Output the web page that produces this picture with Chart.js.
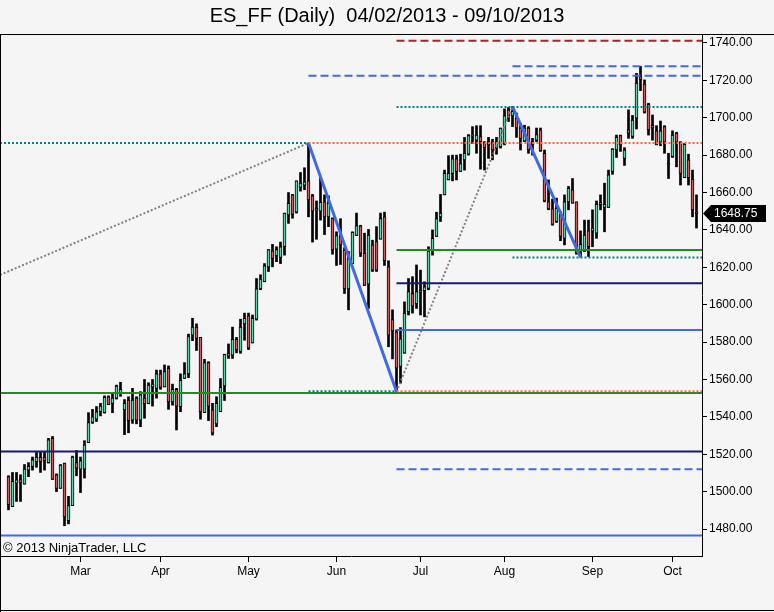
<!DOCTYPE html>
<html>
<head>
<meta charset="utf-8">
<title>ES_FF (Daily)</title>
<script src="https://cdn.jsdelivr.net/npm/chart.js@4.4.1/dist/chart.umd.min.js"></script>
<style>
  html, body { margin: 0; padding: 0; background: #f5f5f5; }
  #wrap { width: 774px; height: 612px; }
</style>
</head>
<body>
<div id="wrap"><canvas id="chart" width="774" height="612"></canvas></div>
<script>
'use strict';

// daily bars, 04/02/2013 .. 09/10/2013 (index 0 = first bar)
var opens = [
  1508, 1492, 1504.5, 1506.5, 1504, 1511.5, 1513.5, 1516, 1518.5, 1518.5,
  1515.5, 1528.5, 1509, 1501.75, 1515.25, 1484.5, 1492.5, 1515.5, 1512, 1512,
  1526.25, 1537, 1538.75, 1542.75, 1542.25, 1550.75, 1547.25, 1550, 1552.5, 1543.75,
  1549, 1538.25, 1550, 1538.25, 1550, 1547, 1556, 1555.25, 1563, 1556,
  1566, 1548, 1554.75, 1545.5, 1560.5, 1563, 1583.75, 1588, 1582.5, 1542.25,
  1569, 1543.75, 1536.25, 1542.75, 1556.5, 1574, 1573, 1581.5, 1575, 1589.75,
  1594, 1579.5, 1592.25, 1608.5, 1612.25, 1620.25, 1628.75, 1626.25, 1625.25, 1631,
  1648, 1658.75, 1649.5, 1662.75, 1664, 1666.25, 1658.25, 1651.5, 1650, 1655,
  1647, 1646.25, 1629.75, 1636.5, 1629.25, 1608.5, 1622, 1637, 1642.25, 1627.5,
  1611, 1632, 1633.75, 1635, 1647, 1620.25, 1592, 1585.5, 1567, 1574,
  1596.25, 1606, 1600.5, 1606.5, 1607.5, 1608.75, 1629.25, 1636.5, 1647, 1658.75,
  1666.75, 1670.25, 1678, 1671.25, 1677.5, 1680.5, 1690.5, 1688, 1690, 1686.75,
  1687.25, 1686.75, 1683.75, 1684.5, 1686.25, 1704.25, 1701, 1699.75, 1694.5, 1687.5,
  1694.5, 1687.25, 1688, 1693.5, 1681, 1655, 1651.25, 1644.5, 1648.25, 1635.5,
  1655, 1661.5, 1655, 1629.25, 1628.5, 1639.5, 1639.5, 1638.25, 1654.75, 1652,
  1652, 1671.25, 1682.75, 1690.5, 1678.25, 1693.5, 1690, 1699.75, 1722, 1718,
  1707.25, 1696, 1693, 1687, 1695.25, 1675.5, 1679.25, 1691.75, 1687, 1668,
  1677.5, 1667.25, 1649.5
];
var highs = [
  1508.5, 1510.25, 1510.25, 1509, 1514.5, 1515.5, 1518.5, 1521, 1521, 1521,
  1528.5, 1529.5, 1509.5, 1514.5, 1515.25, 1497.5, 1519, 1522, 1518.5, 1527.25,
  1542.25, 1544, 1545.5, 1547.25, 1551.25, 1551.25, 1552.5, 1557, 1558.5, 1549.25,
  1550.75, 1555.25, 1550.75, 1553.5, 1560, 1558.25, 1560, 1565, 1565, 1567.75,
  1567.25, 1557.5, 1555.25, 1563, 1569, 1584.25, 1592.75, 1589.75, 1582.5, 1570.75,
  1569.5, 1547.25, 1550.75, 1560.5, 1573.5, 1579, 1588, 1582.5, 1592.25, 1595.5,
  1595.5, 1594.5, 1614, 1616, 1622, 1629.5, 1632.25, 1631, 1633.5, 1649,
  1660, 1659, 1666.25, 1670.75, 1673.25, 1686.5, 1659, 1655.5, 1668, 1658.75,
  1658.25, 1646.5, 1639, 1646, 1630.5, 1628.5, 1639, 1649, 1642.5, 1638.25,
  1640.25, 1634.5, 1641.75, 1649, 1649.5, 1623.5, 1597.25, 1586.5, 1587.75, 1601.5,
  1614, 1615, 1621.25, 1618.5, 1612.25, 1631, 1640, 1649.5, 1659, 1672,
  1679.75, 1680, 1680, 1680.5, 1689.5, 1691, 1695.25, 1695.75, 1695.75, 1687.25,
  1689.5, 1688.5, 1689.5, 1694.5, 1704.75, 1705.5, 1706, 1702.5, 1697, 1696,
  1695.25, 1689, 1694.5, 1694.5, 1682.75, 1666.75, 1656.5, 1657, 1649.75, 1658.75,
  1663.25, 1667.5, 1655, 1639.5, 1645.25, 1645.25, 1650.75, 1655.5, 1658.75, 1665,
  1672, 1683.5, 1690.75, 1690.75, 1684, 1704.25, 1701.25, 1723.75, 1727.5, 1720.25,
  1707.75, 1701.5, 1695.75, 1698.25, 1695.75, 1681, 1693, 1692.25, 1687.25, 1686.25,
  1680.5, 1672, 1658.75
];
var lows = [
  1490.25, 1492, 1494.75, 1494.75, 1504, 1508, 1511.5, 1513, 1510.25, 1511.5,
  1515.25, 1506.5, 1500, 1501.75, 1481.75, 1482.75, 1492.5, 1508.5, 1499.5, 1507.25,
  1526.25, 1536.5, 1537.5, 1540.5, 1542, 1546.5, 1542.25, 1549.5, 1551, 1530.5,
  1531.5, 1536.5, 1536.25, 1534.75, 1539.25, 1547, 1545.75, 1550, 1554.75, 1556,
  1544, 1546.25, 1533, 1542.75, 1560.5, 1561, 1580.75, 1575.5, 1538.75, 1542.25,
  1538, 1530.25, 1534.75, 1542.75, 1548.75, 1571.25, 1571.25, 1574.25, 1574, 1581,
  1576, 1579.5, 1591.75, 1608, 1612.25, 1617.75, 1620.25, 1623, 1622, 1626.5,
  1643.5, 1646.25, 1649, 1660.75, 1661.5, 1647, 1633.5, 1635, 1645.25, 1637.5,
  1641.75, 1627, 1621, 1621.5, 1606, 1597.25, 1622, 1637, 1625.75, 1610.25,
  1598, 1617.75, 1617.75, 1635, 1621, 1577.5, 1571, 1553.5, 1558, 1574,
  1594.5, 1595.5, 1598, 1594.5, 1593.5, 1608, 1626.5, 1636.5, 1644.5, 1658.75,
  1666.75, 1666.25, 1666.75, 1671.25, 1672, 1680, 1686.25, 1681, 1672.5, 1672,
  1678.25, 1677.5, 1680.5, 1683.75, 1685.5, 1698, 1695.25, 1689.5, 1682.75, 1687.25,
  1681, 1680, 1687.25, 1682, 1655, 1650.75, 1642.5, 1644, 1634.25, 1632,
  1650.75, 1654.25, 1627, 1625.5, 1628.5, 1625.75, 1631, 1635.5, 1650.75, 1639,
  1652, 1669.75, 1678.75, 1682, 1674.5, 1689, 1689, 1694, 1714.5, 1702.5,
  1690.75, 1688, 1685.5, 1685, 1681, 1667.5, 1678.75, 1673.75, 1664, 1668,
  1664, 1647, 1641
];
var closes = [
  1493, 1505.5, 1506.25, 1504.75, 1512, 1513.5, 1517, 1518.5, 1516, 1516.5,
  1527.75, 1506.5, 1501.75, 1514.25, 1486.5, 1492.5, 1518.5, 1512.5, 1516.5, 1525,
  1537, 1540, 1542.75, 1545.75, 1550.5, 1546.5, 1550, 1556.5, 1554.75, 1547.25,
  1538, 1549, 1538.25, 1551.75, 1547, 1557, 1557.5, 1563, 1555.75, 1564.25,
  1548, 1554.75, 1545.75, 1559.5, 1563, 1583, 1588, 1582, 1542.75, 1569,
  1545.75, 1531.25, 1547.25, 1555.75, 1573.5, 1572.5, 1581.5, 1575.75, 1588, 1592.75,
  1576.75, 1592.75, 1608.5, 1613.75, 1620.75, 1629.5, 1624.75, 1629.5, 1631, 1649,
  1654.25, 1648.25, 1666.25, 1665, 1665.75, 1656, 1650, 1650.5, 1654.75, 1647,
  1654.25, 1629.25, 1637, 1632, 1608.5, 1624.5, 1638.75, 1642.25, 1627.5, 1610.25,
  1637.25, 1618.5, 1618.5, 1646, 1623.5, 1583.75, 1586, 1566, 1581.75, 1595.5,
  1607, 1599.25, 1607, 1607.5, 1609.5, 1628.5, 1635.5, 1646, 1649, 1670.25,
  1670.25, 1678, 1671.25, 1675.5, 1681, 1690.5, 1690.75, 1690.75, 1687.25, 1684,
  1685.5, 1682.75, 1687.25, 1694.5, 1701, 1701, 1703.5, 1694.5, 1689, 1694.5,
  1682.75, 1685.5, 1691, 1682.25, 1655.5, 1651.25, 1643, 1651.5, 1636.5, 1655,
  1662.25, 1654.25, 1627.5, 1632.25, 1637.25, 1631, 1641, 1653.75, 1653.5, 1653.75,
  1669.5, 1683.25, 1689.5, 1685.5, 1682.75, 1691.75, 1698.75, 1718.5, 1720.5, 1703,
  1693.5, 1694.5, 1685.5, 1693, 1687, 1674.75, 1690.75, 1687, 1670.25, 1685.75,
  1668, 1650.75, 1648.75
];

// x axis: first bar of each month
var monthStart = [18, 38, 60, 82, 103, 124, 146, 166];
var monthName = ['Mar', 'Apr', 'May', 'Jun', 'Jul', 'Aug', 'Sep', 'Oct'];

// price axis
var priceTicks = [1480, 1500, 1520, 1540, 1560, 1580, 1600, 1620, 1640, 1660, 1680, 1700, 1720, 1740];

// horizontal drawing objects (price, from bar, to bar, kind)
var X_MIN = -2.125, X_MAX = 173.375;
var levelPrice = [1741.25, 1727.5, 1722.5, 1705.75, 1686.5, 1686.5, 1629.25, 1625.25, 1611.5, 1586.5, 1553.75, 1553.75, 1552.75, 1521.5, 1512, 1476.5];
var levelFrom  = [97, 126, 75, 97, X_MIN, 75, 97, 126, 97, 97, 75, 97, X_MIN, X_MIN, 97, X_MIN];
var levelTo    = [X_MAX, X_MAX, X_MAX, X_MAX, 75, X_MAX, X_MAX, X_MAX, X_MAX, X_MAX, 97, X_MAX, X_MAX, X_MAX, X_MAX, X_MAX];
var levelKind  = ['darkDash', 'blueDash', 'blueDash', 'tealDot', 'tealDot', 'redDot', 'green', 'tealDot', 'navy', 'blue', 'tealDot', 'redDot', 'green', 'navy', 'blueDash', 'blue'];

// trend lines (bar, price) -> (bar, price)
var trendX1 = [X_MIN, 75, 97, 126];
var trendY1 = [1615.9, 1686.5, 1553.5, 1706];
var trendX2 = [75, 97, 126, 143];
var trendY2 = [1686.5, 1553.5, 1706, 1625.5];
var trendKind = ['grayDot', 'blueThick', 'grayDot', 'blueThick'];

var lineStyles = {
    darkDash:  { color: '#b22222', width: 2, dash: [8, 4] },
    blueDash:  { color: '#4169e1', width: 2, dash: [8, 4] },
    tealDot:   { color: '#008080', width: 2, dash: [2, 2] },
    redDot:    { color: '#ff6347', width: 2, dash: [2, 2] },
    grayDot:   { color: '#808080', width: 2, dash: [2, 2] },
    green:     { color: '#228b22', width: 2, dash: [] },
    navy:      { color: '#191970', width: 2, dash: [] },
    blue:      { color: '#4169e1', width: 2, dash: [] },
    blueThick: { color: '#4169e1', width: 3, dash: [] }
};

var UP_COLOR = '#5ed6aa';
var DOWN_COLOR = '#cd5c5c';
var FONT = '"Liberation Sans", Arial, sans-serif';

function lineDataset(x1, y1, x2, y2, kind){
    var s = lineStyles[kind];
    return {
        type: 'line',
        data: [{x: x1, y: y1}, {x: x2, y: y2}],
        borderColor: s.color,
        borderWidth: s.width,
        borderDash: s.dash,
        pointRadius: 0,
        fill: false,
        tension: 0,
        order: 0
    };
}

var datasets = [];

// wicks
datasets.push({
    type: 'bar',
    data: highs.map(function(h, i){ return {x: i, y: [lows[i], h]}; }),
    backgroundColor: '#000000',
    borderWidth: 0,
    barThickness: 2,
    grouped: false,
    order: 2
});

// bodies
datasets.push({
    type: 'bar',
    data: opens.map(function(o, i){ return {x: i, y: [o, closes[i]]}; }),
    backgroundColor: function(ctx){
        var i = ctx.dataIndex;
        return closes[i] >= opens[i] ? UP_COLOR : DOWN_COLOR;
    },
    borderColor: '#000000',
    borderWidth: 1,
    borderSkipped: false,
    barThickness: 3,
    grouped: false,
    order: 1
});

for(var k = 0; k < levelPrice.length; k++)
    datasets.push(lineDataset(levelFrom[k], levelPrice[k], levelTo[k], levelPrice[k], levelKind[k]));
for(var t = 0; t < trendX1.length; t++)
    datasets.push(lineDataset(trendX1[t], trendY1[t], trendX2[t], trendY2[t], trendKind[t]));

// background, outer frame, copyright and last price marker
var decorPlugin = {
    id: 'decor',
    beforeDraw: function(chart){
        var ctx = chart.ctx;
        ctx.save();
        ctx.fillStyle = '#f5f5f5';
        ctx.fillRect(0, 0, chart.width, chart.height);
        ctx.restore();
    },
    afterDraw: function(chart){
        var ctx = chart.ctx, a = chart.chartArea;
        ctx.save();
        ctx.strokeStyle = '#000000';
        ctx.lineWidth = 1;
        ctx.beginPath();
        ctx.moveTo(0, Math.round(a.top) + 0.5);
        ctx.lineTo(chart.width, Math.round(a.top) + 0.5);
        ctx.moveTo(0.5, Math.round(a.top));
        ctx.lineTo(0.5, chart.height);
        ctx.moveTo(0, chart.height - 1.5);
        ctx.lineTo(chart.width, chart.height - 1.5);
        ctx.stroke();

        ctx.fillStyle = '#000000';
        ctx.font = '13px ' + FONT;
        ctx.textBaseline = 'middle';
        ctx.textAlign = 'left';
        ctx.fillText('\u00a9 2013 NinjaTrader, LLC', 3, a.bottom - 8);

        // last price flag
        var last = closes[closes.length - 1];
        var y = chart.scales.y.getPixelForValue(last);
        var x0 = a.right + 1;
        ctx.font = '12px ' + FONT;
        ctx.beginPath();
        ctx.moveTo(x0, y);
        ctx.lineTo(x0 + 8, y - 8.5);
        ctx.lineTo(x0 + 63, y - 8.5);
        ctx.lineTo(x0 + 63, y + 8.5);
        ctx.lineTo(x0 + 8, y + 8.5);
        ctx.closePath();
        ctx.fill();
        ctx.fillStyle = '#ffffff';
        ctx.fillText(last.toFixed(2), x0 + 11, y + 0.5);
        ctx.restore();
    }
};

var chart = new Chart(document.getElementById('chart'), {
    type: 'bar',
    data: { datasets: datasets },
    options: {
        responsive: false,
        animation: false,
        devicePixelRatio: 1,
        layout: { padding: 0 },
        plugins: {
            legend: { display: false },
            tooltip: { enabled: false },
            title: {
                display: true,
                text: 'ES_FF (Daily)  04/02/2013 - 09/10/2013',
                color: '#000000',
                font: { family: FONT, size: 20, weight: 'normal', lineHeight: 1.2 },
                padding: { top: 4, bottom: 6 }
            }
        },
        scales: {
            x: {
                type: 'linear',
                min: X_MIN,
                max: X_MAX,
                offset: false,
                afterFit: function(scale){ scale.height = 56; },
                afterBuildTicks: function(scale){
                    scale.ticks = monthStart.map(function(v){ return {value: v}; });
                },
                grid: {
                    offset: false,
                    drawOnChartArea: false,
                    drawTicks: true,
                    tickLength: 6,
                    color: '#000000'
                },
                border: { display: true, color: '#000000', width: 1 },
                ticks: {
                    autoSkip: false,
                    maxRotation: 0,
                    padding: 2,
                    color: '#000000',
                    font: { family: FONT, size: 12 },
                    callback: function(value, index){ return monthName[index]; }
                }
            },
            y: {
                type: 'linear',
                position: 'right',
                min: 1465.56,
                max: 1744.81,
                afterFit: function(scale){ scale.width = 72; },
                afterBuildTicks: function(scale){
                    scale.ticks = priceTicks.map(function(v){ return {value: v}; });
                },
                grid: {
                    drawOnChartArea: false,
                    drawTicks: true,
                    tickLength: 5,
                    color: '#000000'
                },
                border: { display: true, color: '#000000', width: 1 },
                ticks: {
                    padding: 2,
                    color: '#000000',
                    font: { family: FONT, size: 12 },
                    callback: function(value){ return Number(value).toFixed(2); }
                }
            }
        }
    },
    plugins: [decorPlugin]
});
</script>
</body>
</html>
